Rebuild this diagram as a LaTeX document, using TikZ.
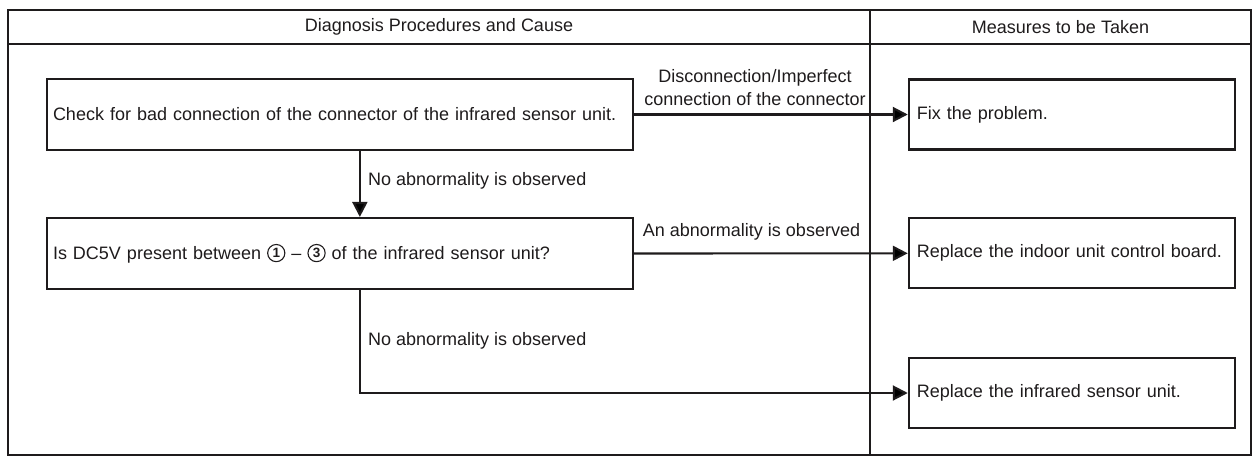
\documentclass[tikz,border=0pt]{standalone}
\usepackage{fontspec}
\setmainfont{Liberation Sans}
\usetikzlibrary{arrows.meta}
\definecolor{ink}{RGB}{30,27,28}
\newcommand{\circnum}[1]{\tikz[baseline=-6.3pt]{\draw[ink, line width=1.1pt] (0,0) circle (8.6pt); \pgftext{\color{ink}\bfseries\fontsize{13.5}{13.5}\selectfont #1}}}
\begin{document}
\begin{tikzpicture}[x=1pt,y=-1pt,
  every node/.style={font=\fontsize{18}{23}\selectfont, text=ink},
  frameline/.style={draw=ink, line width=2.1pt},
  leftbox/.style={draw=ink, line width=2.1pt, minimum width=585.7pt, minimum height=71pt,
    inner xsep=6pt, text width=573.7pt, align=left},
  rightbox/.style={draw=ink, line width=2.1pt, minimum width=325.9pt, minimum height=70pt,
    inner xsep=8pt, text width=309.9pt, align=left},
  arr/.style={draw=ink, line width=2.1pt, -{Triangle[length=15pt,width=15pt]}},
  lbl/.style={inner sep=0pt}]
\useasboundingbox (0,0) rectangle (1252,456);
% table frame
\draw[frameline] (8,10) rectangle (1251,455);
\draw[frameline] (8,44) -- (1251,44);
\draw[frameline] (870,10) -- (870,455);
\node (h1) at (439,27) {Diagnosis Procedures and Cause};
\node (h2) at (1060.5,27) {Measures to be Taken};
% boxes
\node[leftbox] (b1) at (339.85,114.5) {Check for bad connection of the connector of the infrared sensor unit.};
\node[leftbox] (b2) at (339.85,253.5) {Is DC5V present between \circnum{1} – \circnum{3} of the infrared sensor unit?};
\node[rightbox] (fix) at (1071.75,114.5) {Fix the problem.};
\node[rightbox] (ind) at (1071.75,253.3) {Replace the indoor unit control board.};
\node[rightbox] (b3) at (1071.75,393) {Replace the infrared sensor unit.};
% connectors
\draw[arr] (b1.east) -- (fix.west);
\draw[arr] ([xshift=20pt]b1.south) -- ([xshift=20pt]b2.north);
\draw[arr] (b2.east) -- (ind.west);
\draw[arr] ([xshift=20pt]b2.south) |- (b3.west);
% labels
\node[lbl, align=center, anchor=south] (l1) at (755,106) {Disconnection/Imperfect\\connection of the connector};
\node[lbl, anchor=base] (l2) at (751.5,236.5) {An abnormality is observed};
\node[lbl, anchor=base west] (l3) at (368,185) {No abnormality is observed};
\node[lbl, anchor=base west] (l4) at (368,345.5) {No abnormality is observed};
\end{tikzpicture}
\end{document}
